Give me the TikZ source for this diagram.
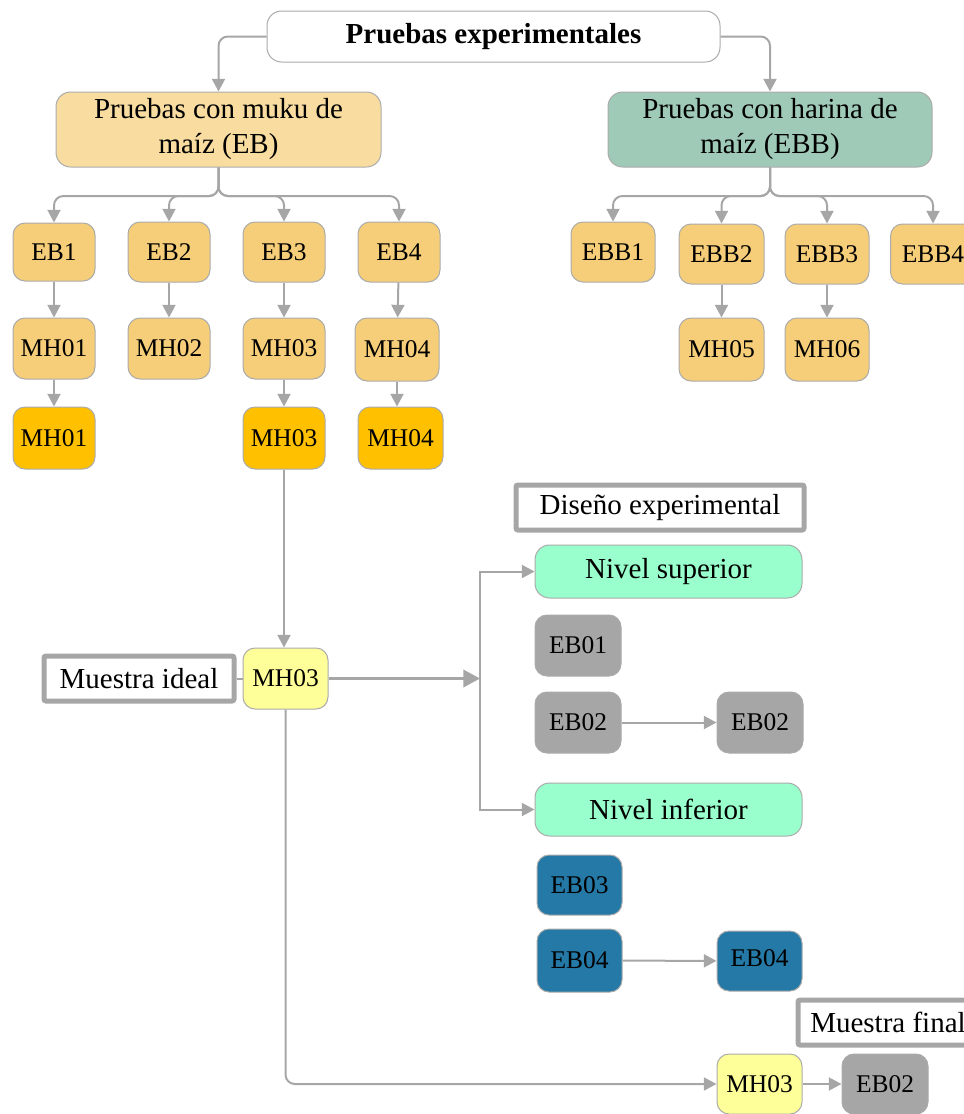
\documentclass[tikz,border=0pt]{standalone}
\usepackage{fontspec}
\setmainfont{Liberation Serif}
\usetikzlibrary{arrows.meta}
\definecolor{linegray}{HTML}{A6A6A6}
\definecolor{edgegray}{HTML}{ABABAB}
\definecolor{peachbig}{HTML}{F9DDA0}
\definecolor{peach}{HTML}{F6CD78}
\definecolor{amber}{HTML}{FFC000}
\definecolor{sage}{HTML}{A0CAB8}
\definecolor{mint}{HTML}{99FFCC}
\definecolor{stone}{HTML}{A6A6A6}
\definecolor{steel}{HTML}{2479A6}
\definecolor{paleyellow}{HTML}{FFFF99}
\begin{document}
\begin{tikzpicture}[x=0.75pt,y=-0.75pt,
  sz/.style 2 args={minimum width=#1*0.75pt, minimum height=#2*0.75pt},
  base/.style={draw=edgegray, line width=0.75pt, inner sep=0pt, align=center},
  smallbox/.style={base, rounded corners=9pt, font=\fontsize{19.1}{23}\selectfont},
  bigbox/.style={base, rounded corners=11pt, font=\fontsize{21.75}{26.25}\selectfont},
  labelbox/.style={draw=linegray, line width=3.75pt, fill=white, rounded corners=1.5pt,
    inner sep=0pt, font=\fontsize{21.75}{26.25}\selectfont},
  line/.style={draw=linegray, line width=1.5pt},
  conn/.style={line, -{Triangle[length=9.5pt,width=9.75pt]}},
  bigconn/.style={line, line width=1.9pt, -{Triangle[length=12.5pt,width=13pt]}},
  softturn/.style={rounded corners=7pt}
]
\path[use as bounding box] (0,0) rectangle (964,1114);
\clip (0,0) rectangle (964,1114);

% top level
\node[bigbox, fill=white, sz={453}{51}, font=\fontsize{21.75}{26.25}\selectfont\bfseries] (title) at (493.5,36.5) {Pruebas experimentales};
\node[bigbox, fill=peachbig, sz={325}{75}] (eb) at (218.5,129.5) {Pruebas con muku de\\maíz (EB)};
\node[bigbox, fill=sage, sz={324}{75}] (ebb) at (770,129.5) {Pruebas con harina de\\maíz (EBB)};

% muku branch
\node[smallbox, fill=peach, sz={82}{58}] (eb1) at (54,252) {EB1};
\node[smallbox, fill=peach, sz={82}{60}] (eb2) at (169,252) {EB2};
\node[smallbox, fill=peach, sz={82}{60}] (eb3) at (284,252) {EB3};
\node[smallbox, fill=peach, sz={82}{60}] (eb4) at (399,252) {EB4};
\node[smallbox, fill=peach, sz={82}{61}] (mh01a) at (54,348.5) {MH01};
\node[smallbox, fill=peach, sz={82}{61}] (mh02a) at (169,348.5) {MH02};
\node[smallbox, fill=peach, sz={82}{61}] (mh03a) at (284,348.5) {MH03};
\node[smallbox, fill=peach, sz={84}{63}] (mh04a) at (397,349.5) {MH04};
\node[smallbox, fill=amber, sz={82}{62}] (mh01b) at (54,438) {MH01};
\node[smallbox, fill=amber, sz={82}{62}] (mh03b) at (284,438) {MH03};
\node[smallbox, fill=amber, sz={85}{62}] (mh04b) at (400.5,438) {MH04};

% harina branch
\node[smallbox, fill=peach, sz={84}{60}] (ebb1) at (613,252) {EBB1};
\node[smallbox, fill=peach, sz={85}{60}] (ebb2) at (721.5,254) {EBB2};
\node[smallbox, fill=peach, sz={84}{60}] (ebb3) at (827,254) {EBB3};
\node[smallbox, fill=peach, sz={85}{60}] (ebb4) at (933,254) {EBB4};
\node[smallbox, fill=peach, sz={85}{63}] (mh05) at (721.5,349.5) {MH05};
\node[smallbox, fill=peach, sz={84}{63}] (mh06) at (827,349.5) {MH06};

% ideal sample and experimental design
\node[labelbox, sz={190}{45}] (ideal) at (139,678.5) {Muestra ideal};
\node[smallbox, fill=paleyellow, sz={85}{61}] (mhy) at (285.5,678.5) {MH03};
\node[labelbox, sz={288}{45}] (design) at (660,507.5) {Diseño experimental};
\node[bigbox, fill=mint, sz={267}{53}] (sup) at (668.5,571.5) {Nivel superior};
\node[smallbox, fill=stone, sz={86}{61}] (eb01) at (578,645.5) {EB01};
\node[smallbox, fill=stone, sz={86}{61}] (eb02a) at (578,722.5) {EB02};
\node[smallbox, fill=stone, sz={86}{61}] (eb02b) at (760,722.5) {EB02};
\node[bigbox, fill=mint, sz={267}{53}] (inf) at (668.5,809.5) {Nivel inferior};
\node[smallbox, fill=steel, sz={85}{60}] (eb03) at (579.5,885) {EB03};
\node[smallbox, fill=steel, sz={85}{63}] (eb04a) at (579.5,960.5) {EB04};
\node[smallbox, fill=steel, sz={85}{60}, text depth=5pt] (eb04b) at (759.5,961) {EB04};

% final sample
\node[labelbox, sz={180}{45}] (final) at (888,1022.5) {Muestra final};
\node[smallbox, fill=paleyellow, sz={85}{60}] (mhf) at (759.5,1084) {MH03};
\node[smallbox, fill=stone, sz={86}{60}] (ebf) at (885,1084) {EB02};

% bus levels and junctions
\coordinate (busl) at (0,196);
\coordinate (junction) at (480,678.5);

% connectors
\draw[conn, softturn] (title.west) -| (eb.north);
\draw[conn, softturn] (title.east) -| (ebb.north);

\foreach \t in {eb1,eb2,eb3,eb4}
  \draw[conn, softturn] (eb.south) |- (\t.north |- busl) -- (\t.north);
\foreach \t in {ebb1,ebb2,ebb3,ebb4}
  \draw[conn, softturn] (ebb.south) |- (\t.north |- busl) -- (\t.north);

\draw[conn] (eb1) -- (mh01a);
\draw[conn] (eb2) -- (mh02a);
\draw[conn] (eb3) -- (mh03a);
\draw[conn] (eb4) -- (mh04a);
\draw[conn] (mh01a) -- (mh01b);
\draw[conn] (mh03a) -- (mh03b);
\draw[conn] (mh04a.south) -- (mh04b.north -| mh04a.south);
\draw[conn] (ebb2) -- (mh05);
\draw[conn] (ebb3) -- (mh06);

\draw[conn] (mh03b.south) -- (mh03b.south |- mhy.north);
\draw[line] (ideal) -- (mhy);
\draw[bigconn] (mhy) -- (junction);
\draw[conn] (junction) |- (sup);
\draw[conn] (junction) |- (inf);
\draw[conn] (eb02a) -- (eb02b);
\draw[conn] (eb04a) -- (eb04b);
\draw[conn, softturn] (mhy.south) |- (mhf);
\draw[conn] (mhf) -- (ebf);
\end{tikzpicture}
\end{document}
